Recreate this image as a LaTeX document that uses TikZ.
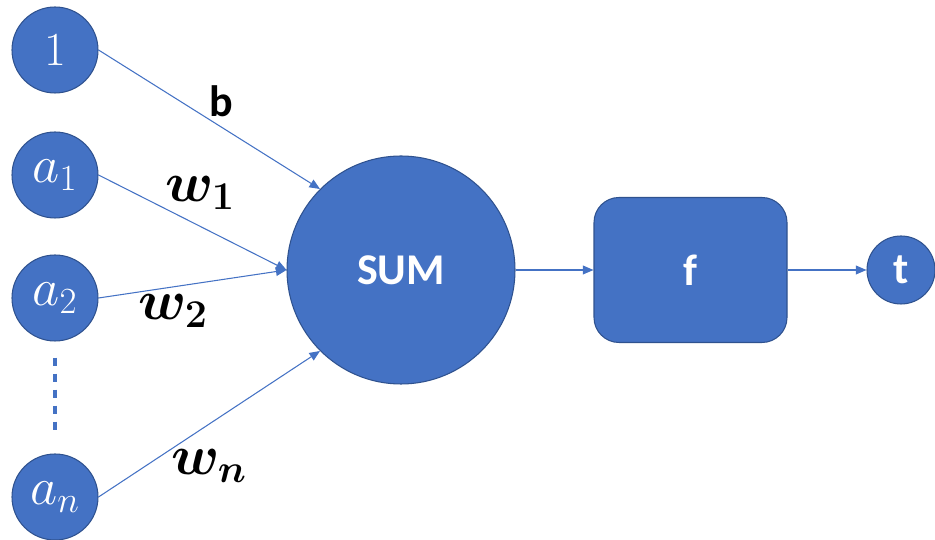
\RequirePackage{fix-cm}
\documentclass[tikz,border=0pt]{standalone}
\usepackage{fontspec}
\setmainfont{Carlito}
\usetikzlibrary{arrows.meta}
\definecolor{nodeblue}{HTML}{4472C4}
\definecolor{rimblue}{HTML}{2F528F}

\begin{document}
\begin{tikzpicture}
      \useasboundingbox (0,0) rectangle (18.7,10.8);
      \begin{scope}[every node/.style={circle,fill=nodeblue,draw=rimblue,line width=0.6pt,text=white,inner sep=0pt,font=\fontsize{30}{34}\selectfont}]
        \node[minimum size=1.72cm,font=\fontsize{27}{32}\selectfont] (one) at (1.1,9.8) {$1$};
        \node[minimum size=1.72cm] (a1) at (1.1,7.3) {$a_1$};
        \node[minimum size=1.72cm] (a2) at (1.1,4.84) {$a_2$};
        \node[minimum size=1.72cm] (an) at (1.1,0.86) {$a_n$};
        \node[minimum size=4.56cm,font=\fontsize{25}{30}\selectfont\bfseries] (sum) at (8.02,5.4) {SUM};
        \node[rectangle,rounded corners=0.5cm,minimum width=3.86cm,minimum height=2.9cm,font=\fontsize{25}{30}\selectfont\bfseries] (f) at (13.81,5.4) {f};
        \node[minimum size=1.36cm,font=\fontsize{25}{30}\selectfont\bfseries] (t) at (18.02,5.4) {t};
      \end{scope}
      \begin{scope}[every node/.style={font=\fontsize{32}{38}\selectfont\boldmath}]
        \node (b) at (4.42,8.78) {\bfseries\fontsize{25}{30}\selectfont b};
        \node (w1) at (4.0,6.94) {$w_1$};
        \node (w2) at (3.46,4.58) {$w_2$};
        \node (wn) at (4.18,1.48) {$w_n$};
      \end{scope}
      \begin{scope}[every edge/.style={draw=nodeblue,line width=0.6pt,-{Triangle[length=6pt,width=5pt]}}]
        \path (one.east) edge (sum.135);
        \path (a1.east) edge (sum.west);
        \path (a2.east) edge (sum.west);
        \path (an.east) edge (sum.225);
        \path (sum.east) edge (f.west);
        \path (f.east) edge (t.west);
      \end{scope}
      \draw[nodeblue,line width=1.8pt,dash pattern=on 0.17cm off 0.15cm,shorten <=0.32cm,shorten >=0.38cm] (a2) -- (an);
    \end{tikzpicture}
\end{document}
